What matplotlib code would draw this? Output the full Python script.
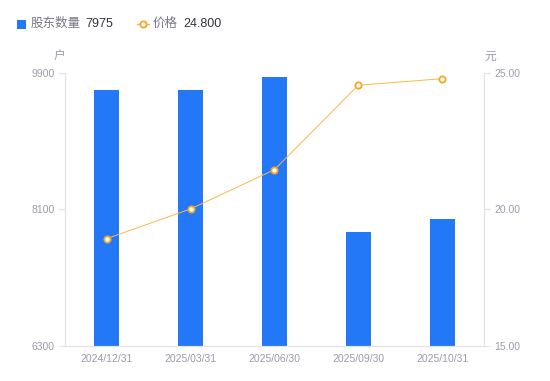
import matplotlib
matplotlib.use("Agg")
from matplotlib import pyplot as plt
from matplotlib.lines import Line2D
from matplotlib.patches import Rectangle
import numpy as np

plt.rcParams["font.family"] = ["Liberation Sans", "Noto Sans CJK SC", "DejaVu Sans"]

# data
dates = ["2024/12/31", "2025/03/31", "2025/06/30", "2025/09/30", "2025/10/31"]
holders = [9680, 9680, 9847, 7800, 7975]
price = [18.93, 20.02, 21.46, 24.56, 24.80]
left_ticks = [6300, 8100, 9900]
right_ticks = [15.0, 20.0, 25.0]

bar_color = "#2378f7"
line_color = "#f9b944"
mark_color = "#f5a623"
tick_color = "#9b9bab"
axis_color = "#e2e2e8"

fig = plt.figure(figsize=(5.5, 3.81), dpi=100, facecolor="white")
ax = fig.add_axes([0.118, 0.0927, 0.762, 0.715])
ax2 = ax.twinx()

x = np.arange(len(dates))
ax.bar(x, holders, width=0.3, color=bar_color, zorder=2)
ax.set_xlim(-0.5, len(dates) - 0.5)
ax.set_ylim(left_ticks[0], left_ticks[-1])
ax.set_yticks(left_ticks)
ax.set_yticklabels([str(t) for t in left_ticks])
ax.set_xticks(x)
ax.set_xticklabels(dates)

ax2.plot(x, price, color=line_color, lw=0.7, marker="o", ms=4.5,
         mfc="white", mec=mark_color, mew=1.3, zorder=3)
ax2.set_ylim(right_ticks[0], right_ticks[-1])
ax2.set_yticks(right_ticks)
ax2.set_yticklabels(["%.2f" % t for t in right_ticks])

for a in (ax, ax2):
    a.spines["top"].set_visible(False)
    for s in ("left", "right", "bottom"):
        a.spines[s].set_color(axis_color)
    a.tick_params(colors=tick_color, labelsize=7.5, length=4, width=0.8)
    a.tick_params(axis="y", color=axis_color, labelcolor=tick_color)
ax.tick_params(axis="x", length=0, pad=6)

# unit labels
fig.text(60 / 550, 1 - 57 / 381, "户", ha="center", va="center", fontsize=8.5, color=tick_color)
fig.text(490 / 550, 1 - 57 / 381, "元", ha="center", va="center", fontsize=8.5, color=tick_color)

# legend
ly = 1 - 24 / 381
fig.add_artist(Rectangle((17 / 550, 1 - 29 / 381), 9 / 550, 9 / 381,
                         transform=fig.transFigure, color=bar_color, lw=0))
fig.text(31 / 550, ly, "股东数量", ha="left", va="center", fontsize=9, color="#777784")
fig.text(85 / 550, ly, "7975", ha="left", va="center", fontsize=9, color="#333340")
fig.add_artist(Line2D([137 / 550, 149 / 550], [ly, ly], transform=fig.transFigure,
                      color=line_color, lw=1))
fig.add_artist(Line2D([143 / 550], [ly], transform=fig.transFigure, marker="o", ms=4.5,
                      mfc="white", mec=mark_color, mew=1.3, lw=0))
fig.text(153 / 550, ly, "价格", ha="left", va="center", fontsize=9, color="#777784")
fig.text(183 / 550, ly, "24.800", ha="left", va="center", fontsize=9, color="#333340")

fig.savefig("out.png", dpi=100, facecolor="white")
